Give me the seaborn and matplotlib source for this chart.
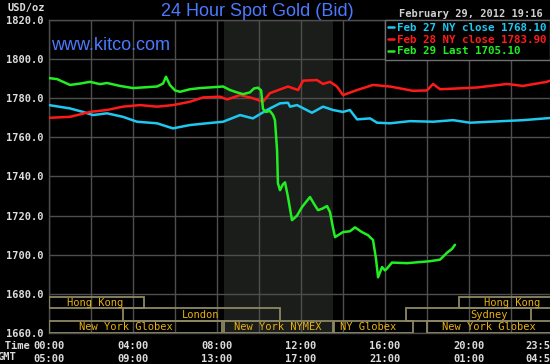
import numpy as np
import pandas as pd
import matplotlib
matplotlib.use("Agg")
import matplotlib.pyplot as plt
import seaborn as sns
from matplotlib.patches import Rectangle
from matplotlib.font_manager import FontProperties

# ---------------- data ----------------
hours_feb27 = [0.0, 1.0, 1.62, 2.1, 2.76, 3.52, 4.19, 5.14, 5.9, 6.71, 7.52, 8.29, 9.1, 9.71,
               10.38, 11.0, 11.38, 11.48, 11.81, 12.52, 13.05, 13.52, 14.0, 14.33, 14.67,
               15.29, 15.62, 16.24, 17.19, 18.29, 19.24, 20.05, 21.0, 22.57, 23.86]
price_feb27 = [1776.5, 1774.8, 1773.0, 1771.4, 1772.3, 1770.5, 1768.0, 1767.2, 1764.6, 1766.3,
               1767.2, 1768.0, 1771.4, 1769.7, 1774.0, 1777.4, 1777.7, 1775.7, 1776.5, 1772.6,
               1775.7, 1774.0, 1773.0, 1774.0, 1769.2, 1769.7, 1767.5, 1767.2, 1768.3, 1768.0,
               1768.8, 1767.5, 1768.0, 1768.8, 1769.9]

hours_feb28 = [0.0, 1.0, 1.95, 2.76, 3.52, 4.33, 5.14, 5.9, 6.71, 7.33, 8.14, 8.48, 9.1, 9.71,
               10.19, 10.52, 11.38, 11.86, 12.1, 12.76, 13.05, 13.38, 13.71, 14.0, 14.67,
               15.43, 16.24, 17.33, 18.0, 18.29, 18.62, 19.43, 20.38, 21.81, 22.57, 23.71, 23.86]
price_feb28 = [1770.0, 1770.5, 1773.0, 1774.0, 1775.7, 1776.5, 1775.7, 1776.5, 1778.2, 1780.4,
               1780.8, 1779.4, 1781.6, 1780.0, 1778.2, 1782.6, 1786.0, 1784.2, 1789.0, 1789.3,
               1787.3, 1788.4, 1786.0, 1781.6, 1784.2, 1786.8, 1786.0, 1783.8, 1784.0, 1787.3,
               1784.6, 1785.0, 1785.5, 1787.3, 1786.3, 1788.4, 1789.0]

hours_feb29 = [0.0, 0.38, 1.0, 1.48, 1.95, 2.43, 2.76, 3.38, 4.0, 4.57, 5.14, 5.43, 5.57, 5.76,
               6.0, 6.24, 6.71, 7.19, 7.76, 8.29, 8.62, 8.95, 9.24, 9.57, 9.76, 9.95, 10.1,
               10.19, 10.33, 10.52, 10.67, 10.76, 10.86, 10.9, 11.0, 11.14, 11.24, 11.38,
               11.57, 11.71, 11.81, 12.05, 12.24, 12.43, 12.62, 12.81, 13.0, 13.24, 13.38,
               13.52, 13.62, 14.0, 14.33, 14.57, 14.9, 15.19, 15.43, 15.57, 15.67, 15.86,
               16.0, 16.1, 16.33, 17.05, 18.14, 18.62, 18.95, 19.19, 19.33]
price_feb29 = [1790.3, 1789.8, 1786.8, 1787.5, 1788.4, 1787.2, 1787.8, 1786.3, 1785.2, 1785.6,
               1786.0, 1787.5, 1791.0, 1786.7, 1784.0, 1783.3, 1784.6, 1785.2, 1785.6, 1786.0,
               1784.2, 1783.0, 1782.1, 1783.0, 1785.0, 1785.4, 1784.0, 1774.5, 1773.0, 1773.5,
               1771.4, 1768.8, 1753.5, 1736.6, 1733.0, 1736.0, 1737.0, 1729.5, 1717.7, 1719.0,
               1720.0, 1724.4, 1727.0, 1729.5, 1726.0, 1722.8, 1723.5, 1724.9, 1721.8, 1714.0,
               1709.0, 1711.6, 1712.0, 1714.0, 1711.6, 1710.0, 1707.5, 1698.0, 1688.5, 1693.7,
               1692.0, 1693.0, 1696.0, 1695.7, 1696.7, 1697.5, 1701.0, 1703.0, 1705.1]

series_labels = ["Feb 27 NY close 1768.10", "Feb 28 NY close 1783.90", "Feb 29 Last 1705.10"]
series_colors = ["#1ec8f0", "#ff1a1a", "#22ee22"]

session_names = ["Hong Kong", "London", "New York Globex", "New York NYMEX", "NY Globex",
                 "Hong Kong", "Sydney", "New York Globex"]
session_start = [0.0, 3.5, 0.0, 8.35, 13.58, 19.5, 17.0, 18.02]
session_end = [4.5, 11.0, 8.25, 13.5, 17.35, 25.0, 22.95, 25.0]
session_row = [0, 1, 2, 2, 2, 0, 1, 2]
session_text_x = [2.2, 7.2, 3.67, 10.88, 15.19, 22.05, 20.95, 20.95]

row_top = [1678.2, 1672.6, 1666.3]
row_bottom = [1672.6, 1666.3, 1660.0]

time_ticks = [0, 4, 8, 12, 16, 20, 23.43]
ny_labels = ["00:00", "04:00", "08:00", "12:00", "16:00", "20:00", "23:59"]
gmt_labels = ["05:00", "09:00", "13:00", "17:00", "21:00", "01:00", "04:59"]
y_ticks = [1660, 1680, 1700, 1720, 1740, 1760, 1780, 1800, 1820]
grid_hours = list(range(0, 24, 2))
nymex_span = (8.35, 13.5)

# ---------------- frame ----------------
df = pd.concat([
    pd.DataFrame({"hour": hours_feb27, "price": price_feb27, "series": series_labels[0]}),
    pd.DataFrame({"hour": hours_feb28, "price": price_feb28, "series": series_labels[1]}),
    pd.DataFrame({"hour": hours_feb29, "price": price_feb29, "series": series_labels[2]}),
], ignore_index=True)

sns.set_theme(style="dark", rc={"axes.facecolor": "black", "figure.facecolor": "black"})
plt.rcParams["font.family"] = ["DejaVu Sans Mono", "DejaVu Sans"]

W, H = 550, 364
fig = plt.figure(figsize=(W / 100, H / 100), dpi=100, facecolor="black")
ax = fig.add_axes([49 / W, (H - 333) / H, 501 / W, 313 / H])
ax.set_facecolor("black")

grid_c = "#4e4e4e"
ax.axvspan(*nymex_span, color="#1b1d1b", zorder=0, lw=0)
ax.vlines(grid_hours, 1660, 1820, color=grid_c, lw=1.0, zorder=1)
ax.hlines(y_ticks, 0, 24, color=grid_c, lw=1.0, zorder=1)

sns.lineplot(data=df, x="hour", y="price", hue="series", hue_order=series_labels,
             palette=dict(zip(series_labels, series_colors)), estimator=None, sort=False,
             lw=1.8, ax=ax, zorder=3)

ax.set_xlim(0, 501 / 21)
ax.set_ylim(1660, 1820)
ax.set_xlabel("")
ax.set_ylabel("")

mono = FontProperties(family="DejaVu Sans Mono", weight="bold", size=7.5)
ax.set_yticks(y_ticks)
ax.set_yticklabels([f"{v:.1f}" for v in y_ticks], fontproperties=mono, color="#dcdcdc")
ax.set_xticks(time_ticks)
ax.set_xticklabels([f"{a}\n{b}" for a, b in zip(ny_labels, gmt_labels)],
                   fontproperties=mono, color="#dcdcdc", linespacing=1.45)
ax.tick_params(axis="both", length=0)
ax.tick_params(axis="y", pad=4)
ax.tick_params(axis="x", pad=5.5)
for s in ax.spines.values():
    s.set_color(grid_c)
    s.set_linewidth(1.0)
ax.spines["right"].set_visible(False)

# session boxes
box_c = "#8d8862"
text_c = "#e8b010"
for name, s0, s1, r, tx in zip(session_names, session_start, session_end, session_row, session_text_x):
    ax.add_patch(Rectangle((s0, row_bottom[r]), s1 - s0, row_top[r] - row_bottom[r],
                           fill=False, edgecolor=box_c, lw=1.3, zorder=4))
    ax.text(tx, (row_top[r] + row_bottom[r]) / 2, name, ha="center", va="center",
            fontproperties=FontProperties(family="DejaVu Sans Mono", size=7.5),
            color=text_c, zorder=5, clip_on=True)

# legend
handles, labels = ax.get_legend_handles_labels()
leg = ax.legend(handles=handles[-3:], labels=labels[-3:], loc="upper left",
                bbox_to_anchor=((385 - 49) / 501, 1.0), borderaxespad=0,
                frameon=True, fancybox=False, facecolor="black", edgecolor="#707070",
                framealpha=1, prop=FontProperties(family="DejaVu Sans Mono", weight="bold", size=7.8),
                labelcolor="linecolor", handlelength=0.5, handletextpad=0.3,
                labelspacing=0.15, borderpad=0.3)
leg.set_zorder(6)
leg.get_frame().set_linewidth(1.0)

# titles and annotations
title_font = FontProperties(family="Liberation Sans", size=13)
fig.text(257 / W, 1 - 12 / H, "24 Hour Spot Gold (Bid)", ha="center", va="center",
         fontproperties=title_font, color="#4a7aff")
fig.text(51 / W, 1 - 45 / H, "www.kitco.com", ha="left", va="center",
         fontproperties=title_font, color="#4a7aff")
fig.text(543 / W, 1 - 14 / H, "February 29, 2012 19:16", ha="right", va="center",
         fontproperties=FontProperties(family="DejaVu Sans Mono", weight="bold", size=7.5),
         color="#d0d0d0")
fig.text(8 / W, 1 - 7.5 / H, "USD/oz", ha="left", va="center", fontproperties=mono, color="#dcdcdc")
fig.text(30 / W, 1 - 346 / H, "NY Time", ha="right", va="center", fontproperties=mono, color="#dcdcdc")
fig.text(16 / W, 1 - 357 / H, "GMT", ha="right", va="center", fontproperties=mono, color="#dcdcdc")

fig.savefig("out.png", dpi=100, facecolor="black")
